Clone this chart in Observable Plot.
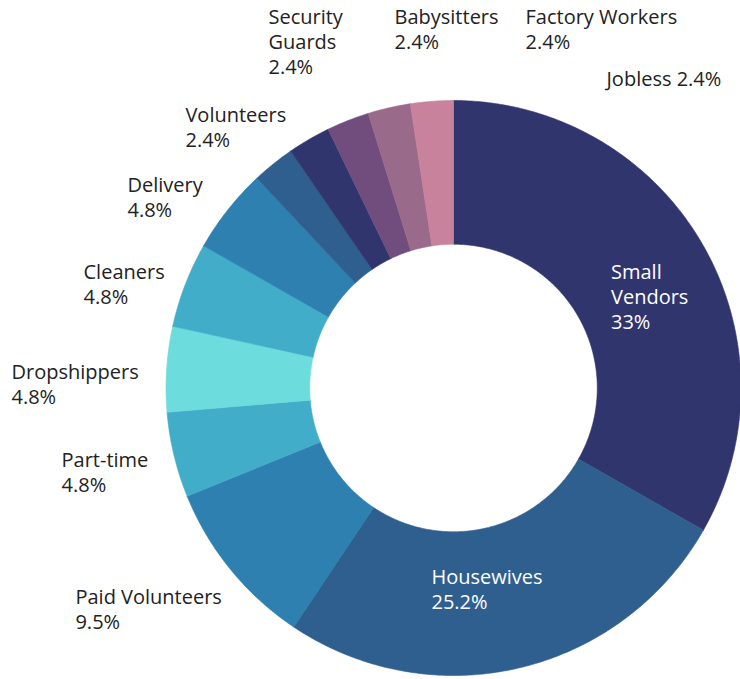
<!DOCTYPE html>
<html>
<head>
<meta charset="utf-8">
<script src="https://cdn.jsdelivr.net/npm/d3@7"></script>
<script src="https://cdn.jsdelivr.net/npm/@observablehq/plot@0.6"></script>
<style>
  html, body { margin: 0; padding: 0; background: #fff; }
  #chart svg { display: block; }
</style>
</head>
<body>
<div id="chart"></div>
<script>
// ---- data ----
const categories = ["Small Vendors", "Housewives", "Paid Volunteers", "Part-time", "Dropshippers", "Cleaners", "Delivery", "Volunteers", "Security Guards", "Babysitters", "Factory Workers", "Jobless"];
// slice sizes as drawn (percent)
const shares = [33.3, 26.2, 9.5, 4.8, 4.8, 4.8, 4.8, 2.4, 2.4, 2.4, 2.4, 2.4];
// percentages as printed on the chart
const shareLabels = ["33%", "25.2%", "9.5%", "4.8%", "4.8%", "4.8%", "4.8%", "2.4%", "2.4%", "2.4%", "2.4%", "2.4%"];
const nameLines = ["Small\nVendors", "Housewives", "Paid Volunteers", "Part-time", "Dropshippers", "Cleaners", "Delivery", "Volunteers", "Security\nGuards", "Babysitters", "Factory Workers", "Jobless"];
const sliceColors = ["#31356e", "#2f5f8f", "#2d80b0", "#41adc9", "#6cdcdc", "#41adc9", "#2d80b0", "#2f5f8f", "#31356e", "#714d7e", "#9a6a8b", "#c9829b"];

// ---- layout (pixels) ----
const W = 740, H = 679;
const cx = 453, cy = 387.5, R = 287.5, r = 143.75;
const insideLabels = new Set(["Small Vendors", "Housewives"]);
const sameLineValue = new Set(["Jobless"]);
// label nudges relative to the slice's label anchor (px)
const labelNudge = {
  "Small Vendors": [-28.9, -18.3],
  "Housewives": [-71.6, -31.5],
  "Paid Volunteers": [-137.7, 2.5],
  "Part-time": [-90.5, -10.6],
  "Dropshippers": [-132.7, -6.5],
  "Cleaners": [-80.6, -15.5],
  "Delivery": [-82.6, -22],
  "Volunteers": [-73.8, -41.8],
  "Security Guards": [-29.2, -113.7],
  "Babysitters": [54.9, -93.4],
  "Factory Workers": [141.4, -79.6],
  "Jobless": [176.3, -10.9]
};

const rows = categories.map((name, i) => ({name, share: shares[i], value: shareLabels[i], lines: nameLines[i]}));
const arcs = d3.pie().value(d => d.share).sort(null)(rows);

const polar = (a, rad) => ({x: cx + rad * Math.sin(a), y: cy - rad * Math.cos(a)});

// polygon outline of each donut slice
const points = [];
for (const arc of arcs) {
  const {startAngle: a0, endAngle: a1} = arc;
  const n = Math.max(4, Math.ceil((a1 - a0) / (Math.PI / 360)));
  const name = arc.data.name;
  for (let i = 0; i <= n; i++) points.push({name, ...polar(a0 + (a1 - a0) * i / n, R)});
  for (let i = n; i >= 0; i--) points.push({name, ...polar(a0 + (a1 - a0) * i / n, r)});
  points.push({name, ...polar(a0, R)});
}

const labels = arcs.map(arc => {
  const d = arc.data;
  const mid = (arc.startAngle + arc.endAngle) / 2;
  const inside = insideLabels.has(d.name);
  const p = polar(mid, inside ? (R + r) / 2 : R + 22.5);
  const [dx, dy] = labelNudge[d.name];
  return {
    name: d.name,
    inside,
    x: p.x + dx,
    y: p.y + dy,
    text: d.lines + (sameLineValue.has(d.name) ? " " : "\n") + d.value
  };
});

const chart = Plot.plot({
  width: W,
  height: H,
  margin: 0,
  x: {domain: [0, W], range: [0, W], axis: null},
  y: {domain: [0, H], range: [0, H], axis: null},
  color: {domain: categories, range: sliceColors},
  style: {fontFamily: "'Open Sans', sans-serif", background: "#fff"},
  marks: [
    Plot.line(points, {x: "x", y: "y", z: "name", fill: "name", stroke: "name", strokeWidth: 0.6, strokeLinejoin: "round"}),
    Plot.text(labels.filter(d => !d.inside), {x: "x", y: "y", text: "text", fill: "#222", textAnchor: "start", lineAnchor: "top", lineHeight: 1.25, fontSize: 20}),
    Plot.text(labels.filter(d => d.inside), {x: "x", y: "y", text: "text", fill: "#fff", textAnchor: "start", lineAnchor: "top", lineHeight: 1.25, fontSize: 20})
  ]
});
document.getElementById("chart").appendChild(chart);
</script>
</body>
</html>
